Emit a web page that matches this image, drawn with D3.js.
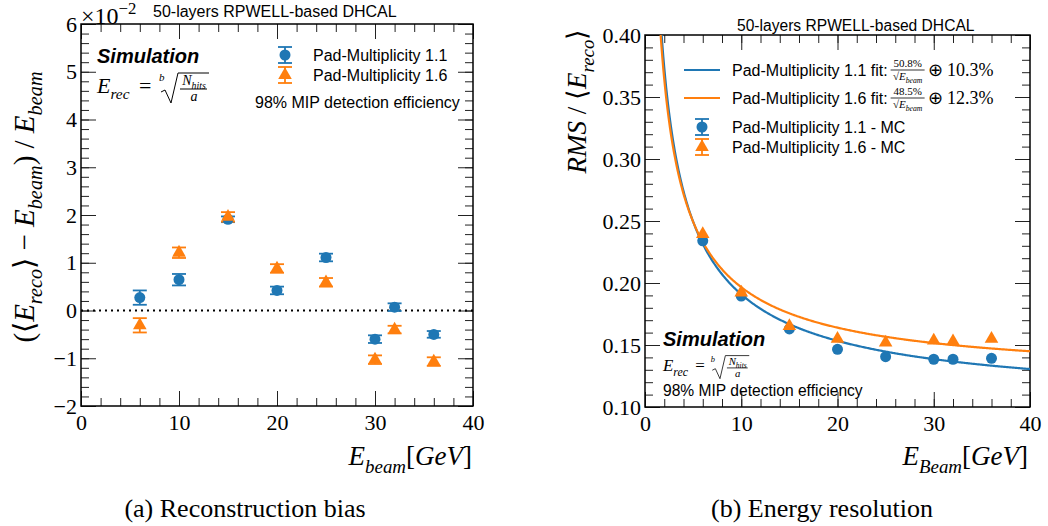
<!DOCTYPE html>
<html>
<head>
<meta charset="utf-8">
<script src="https://cdn.jsdelivr.net/npm/d3@7"></script>
<style>body{margin:0;background:#fff;}</style>
</head>
<body>
<script>
// beam energies (GeV)
const energies = [6, 10, 15, 20, 25, 30, 32, 36];

// (a) reconstruction bias, in units of 1e-2
const biasPm11 = [0.27, 0.645, 1.91, 0.42, 1.11, -0.60, 0.07, -0.50];
const biasErr11 = [0.15, 0.12, 0.06, 0.08, 0.08, 0.08, 0.08, 0.07];
const biasPm16 = [-0.31, 1.21, 1.96, 0.88, 0.59, -1.03, -0.40, -1.07];
const biasErr16 = [0.15, 0.11, 0.10, 0.09, 0.09, 0.09, 0.08, 0.09];

// (b) energy resolution
const resPm11 = [0.234, 0.1895, 0.163, 0.1465, 0.1406, 0.1385, 0.1385, 0.1393];
const resPm16 = [0.2395, 0.1922, 0.1653, 0.155, 0.152, 0.1535, 0.153, 0.155];

// fit parameters: stochastic term and constant term
const fitStoch = [0.508, 0.485];
const fitConst = [0.103, 0.123];
const fitLabels = ["Pad-Multiplicity 1.1 fit: ", "Pad-Multiplicity 1.6 fit: "];
const fitNum = ["50.8%", "48.5%"];
const fitConstTxt = ["10.3%", "12.3%"];

const xTicks = [0, 10, 20, 30, 40];
const biasTicks = [-2, -1, 0, 1, 2, 3, 4, 5, 6];
const resTicks = [0.10, 0.15, 0.20, 0.25, 0.30, 0.35, 0.40];

const serif = "'Liberation Serif', 'Times New Roman', serif";
const sans = "'Liberation Sans', Arial, sans-serif";
const blue = "#1f77b4", orange = "#ff7f0e";

const svg = d3.select("body").append("svg")
  .attr("width", 1048)
  .attr("height", 526)
  .style("background-color", "#fff");

const xL = d3.scaleLinear().domain([0, 40]).range([81, 473]);
const yL = d3.scaleLinear().domain([-2, 6]).range([406, 24]);
const xR = d3.scaleLinear().domain([0, 40]).range([645, 1030]);
const yR = d3.scaleLinear().domain([0.10, 0.40]).range([407, 35]);

function axes(x, y, yMajor, yMinor, yFmt) {
  const g = svg.append("g");
  const [x0, x1] = x.range();
  const [y0, y1] = y.range();
  const xMinor = d3.range(0, 40.01, 2);
  const clean = s => s.call(a => a.select(".domain").remove())
    .call(a => a.selectAll("line").attr("stroke", "#222"));

  g.append("g").attr("transform", `translate(0,${y0})`)
    .call(d3.axisBottom(x).tickValues(xTicks).tickSize(-15).tickPadding(8).tickFormat(d3.format("d")))
    .call(clean)
    .attr("font-family", serif).attr("font-size", 22)
    .selectAll("text").attr("fill", "#000");
  g.append("g").attr("transform", `translate(0,${y0})`)
    .call(d3.axisBottom(x).tickValues(xMinor).tickSize(-8).tickFormat("")).call(clean);
  g.append("g").attr("transform", `translate(0,${y1})`)
    .call(d3.axisTop(x).tickValues(xTicks).tickSize(-15).tickFormat("")).call(clean);
  g.append("g").attr("transform", `translate(0,${y1})`)
    .call(d3.axisTop(x).tickValues(xMinor).tickSize(-8).tickFormat("")).call(clean);

  g.append("g").attr("transform", `translate(${x0},0)`)
    .call(d3.axisLeft(y).tickValues(yMajor).tickSize(-15).tickPadding(4).tickFormat(yFmt))
    .call(clean)
    .attr("font-family", serif).attr("font-size", 22)
    .selectAll("text").attr("fill", "#000");
  g.append("g").attr("transform", `translate(${x0},0)`)
    .call(d3.axisLeft(y).tickValues(yMinor).tickSize(-8).tickFormat("")).call(clean);
  g.append("g").attr("transform", `translate(${x1},0)`)
    .call(d3.axisRight(y).tickValues(yMajor).tickSize(-15).tickFormat("")).call(clean);
  g.append("g").attr("transform", `translate(${x1},0)`)
    .call(d3.axisRight(y).tickValues(yMinor).tickSize(-8).tickFormat("")).call(clean);

  g.append("rect")
    .attr("x", x0).attr("y", y1)
    .attr("width", x1 - x0).attr("height", y0 - y1)
    .attr("fill", "none").attr("stroke", "#000").attr("stroke-width", 1.5);
}

// text with italic math parts, subscripts and superscripts
function mathText(parent, x, y, size, parts, anchor) {
  const t = parent.append("text")
    .attr("x", x).attr("y", y)
    .attr("font-family", serif)
    .attr("font-size", size)
    .attr("text-anchor", anchor || "start")
    .attr("fill", "#000");
  let shift = 0;
  parts.forEach(p => {
    const target = p.sub ? size * 0.28 : p.sup ? -size * 0.42 : 0;
    t.append("tspan")
      .attr("dy", target - shift)
      .attr("font-size", (p.sub || p.sup) ? size * 0.7 : size)
      .attr("font-style", p.it ? "italic" : "normal")
      .text(p.t);
    shift = target;
  });
  return t;
}

function errorBars(x, y, xs, ys, errs, color) {
  const g = svg.append("g").attr("stroke", color).attr("stroke-width", 1.8);
  xs.forEach((e, i) => {
    const lo = y(ys[i] - errs[i]), hi = y(ys[i] + errs[i]), cx = x(e);
    g.append("line").attr("x1", cx).attr("x2", cx).attr("y1", lo).attr("y2", hi);
    g.append("line").attr("x1", cx - 7).attr("x2", cx + 7).attr("y1", lo).attr("y2", lo);
    g.append("line").attr("x1", cx - 7).attr("x2", cx + 7).attr("y1", hi).attr("y2", hi);
  });
}

function circles(x, y, xs, ys) {
  svg.append("g").selectAll("circle").data(xs).join("circle")
    .attr("cx", d => x(d)).attr("cy", (d, i) => y(ys[i]))
    .attr("r", 5.5).attr("fill", blue);
}

function triangles(x, y, xs, ys) {
  svg.append("g").selectAll("path").data(xs).join("path")
    .attr("d", d3.symbol(d3.symbolTriangle, 80))
    .attr("transform", (d, i) => `translate(${x(d)},${y(ys[i])})`)
    .attr("fill", orange);
}

function legendMarker(cx, cy, color, tri) {
  const g = svg.append("g").attr("stroke", color).attr("stroke-width", 1.8);
  g.append("line").attr("x1", cx).attr("x2", cx).attr("y1", cy - 8).attr("y2", cy + 8);
  g.append("line").attr("x1", cx - 7).attr("x2", cx + 7).attr("y1", cy - 8).attr("y2", cy - 8);
  g.append("line").attr("x1", cx - 7).attr("x2", cx + 7).attr("y1", cy + 8).attr("y2", cy + 8);
  if (tri) {
    svg.append("path").attr("d", d3.symbol(d3.symbolTriangle, 80))
      .attr("transform", `translate(${cx},${cy})`).attr("fill", color);
  } else {
    svg.append("circle").attr("cx", cx).attr("cy", cy).attr("r", 5.5).attr("fill", color);
  }
}

function plainText(x, y, size, txt, opts) {
  opts = opts || {};
  return svg.append("text")
    .attr("x", x).attr("y", y)
    .attr("font-family", opts.family || sans)
    .attr("font-size", size)
    .attr("font-weight", opts.weight || "normal")
    .attr("font-style", opts.style || "normal")
    .attr("text-anchor", opts.anchor || "start")
    .attr("fill", "#000")
    .text(txt);
}

// E_rec = b-th root of N_hits / a
function erecFormula(x0, y0, s) {
  const g = svg.append("g").attr("transform", `translate(${x0},${y0}) scale(${s})`);
  mathText(g, 0, 0, 22, [{t: "E", it: true}, {t: "rec", it: true, sub: true}]);
  g.append("text").attr("x", 42).attr("y", 0).attr("font-family", serif)
    .attr("font-size", 22).text("=");
  g.append("text").attr("x", 62).attr("y", -12).attr("font-family", serif)
    .attr("font-style", "italic").attr("font-size", 11).text("b");
  g.append("path")
    .attr("d", "M64,-1 L68,-3 L74,10 L81,-20 L112,-20")
    .attr("fill", "none").attr("stroke", "#000").attr("stroke-width", 1);
  mathText(g, 97, -8, 14, [{t: "N", it: true}, {t: "hits", it: true, sub: true}], "middle");
  g.append("line").attr("x1", 83).attr("x2", 110).attr("y1", -4).attr("y2", -4)
    .attr("stroke", "#000").attr("stroke-width", 1);
  g.append("text").attr("x", 97).attr("y", 8).attr("font-family", serif)
    .attr("font-style", "italic").attr("font-size", 14).attr("text-anchor", "middle").text("a");
}

// ---------- (a) reconstruction bias ----------
axes(xL, yL, biasTicks, d3.range(-2, 6.01, 0.2).map(v => +v.toFixed(1)), d3.format("d"));

svg.append("line")
  .attr("x1", xL(0)).attr("x2", xL(40)).attr("y1", yL(0)).attr("y2", yL(0))
  .attr("stroke", "#000").attr("stroke-width", 2).attr("stroke-dasharray", "2,4");

errorBars(xL, yL, energies, biasPm11, biasErr11, blue);
errorBars(xL, yL, energies, biasPm16, biasErr16, orange);
circles(xL, yL, energies, biasPm11);
triangles(xL, yL, energies, biasPm16);

mathText(svg, 81, 24, 24, [{t: "×10"}, {t: "−2", sup: true}]);
plainText(153, 17, 16, "50-layers RPWELL-based DHCAL");
plainText(97, 63, 20, "Simulation", {weight: "bold", style: "italic"});
erecFormula(97, 93, 1);
legendMarker(285, 55, blue, false);
legendMarker(285, 75, orange, true);
plainText(313, 61, 16, "Pad-Multiplicity 1.1");
plainText(313, 81, 16, "Pad-Multiplicity 1.6");
plainText(255, 108, 16, "98% MIP detection efficiency");

mathText(svg, 0, 0, 29, [
  {t: "(⟨"}, {t: "E", it: true}, {t: "reco", it: true, sub: true}, {t: "⟩ − "},
  {t: "E", it: true}, {t: "beam", it: true, sub: true}, {t: ") / "},
  {t: "E", it: true}, {t: "beam", it: true, sub: true}
], "middle").attr("transform", "translate(34,207) rotate(-90)");

mathText(svg, 472, 465, 27, [
  {t: "E", it: true}, {t: "beam", it: true, sub: true}, {t: "["}, {t: "GeV", it: true}, {t: "]"}
], "end");

plainText(245, 517, 26, "(a) Reconstruction bias", {family: serif, anchor: "middle"});

// ---------- (b) energy resolution ----------
axes(xR, yR, resTicks, d3.range(0.10, 0.4001, 0.01).map(v => +v.toFixed(2)), d3.format(".2f"));

svg.append("clipPath").attr("id", "clipR").append("rect")
  .attr("x", 645).attr("y", 35).attr("width", 385).attr("height", 372);

const eGrid = d3.range(1.2, 40.001, 0.1);
[blue, orange].forEach((c, k) => {
  const line = d3.line()
    .x(e => xR(e))
    .y(e => yR(Math.sqrt(fitStoch[k] * fitStoch[k] / e + fitConst[k] * fitConst[k])));
  svg.append("path").datum(eGrid)
    .attr("d", line)
    .attr("clip-path", "url(#clipR)")
    .attr("fill", "none").attr("stroke", c).attr("stroke-width", 2.2);
});

circles(xR, yR, energies, resPm11);
triangles(xR, yR, energies, resPm16);

plainText(737, 31, 15.6, "50-layers RPWELL-based DHCAL");

// legend
[blue, orange].forEach((c, k) => {
  const ly = 70 + k * 28;
  svg.append("line").attr("x1", 684).attr("x2", 720).attr("y1", ly).attr("y2", ly)
    .attr("stroke", c).attr("stroke-width", 2.2);
  const t = plainText(732, ly + 6, 16, fitLabels[k]);
  const end = 732 + t.node().getComputedTextLength() + 2;
  const fc = end + 18;
  svg.append("text").attr("x", fc).attr("y", ly - 3).attr("font-family", serif)
    .attr("font-size", 11).attr("text-anchor", "middle").text(fitNum[k]);
  svg.append("line").attr("x1", fc - 17).attr("x2", fc + 17).attr("y1", ly).attr("y2", ly)
    .attr("stroke", "#000").attr("stroke-width", 0.8);
  mathText(svg, fc, ly + 10, 11, [{t: "√"}, {t: "E", it: true}, {t: "beam", it: true, sub: true}], "middle");
  svg.append("text").attr("x", fc + 20).attr("y", ly + 6).attr("font-family", serif)
    .attr("font-size", 18).text("⊕ " + fitConstTxt[k]);
});
legendMarker(702, 127, blue, false);
legendMarker(702, 147, orange, true);
plainText(732, 133, 16, "Pad-Multiplicity 1.1 - MC");
plainText(732, 153, 16, "Pad-Multiplicity 1.6 - MC");

plainText(663, 346, 20, "Simulation", {weight: "bold", style: "italic"});
erecFormula(663, 371, 0.77);
plainText(663, 396, 15.6, "98% MIP detection efficiency");

mathText(svg, 0, 0, 27, [
  {t: "RMS", it: true}, {t: " / ⟨"}, {t: "E", it: true}, {t: "reco", it: true, sub: true}, {t: "⟩"}
], "middle").attr("transform", "translate(586,101) rotate(-90)");

mathText(svg, 1028, 465, 27, [
  {t: "E", it: true}, {t: "Beam", it: true, sub: true}, {t: "["}, {t: "GeV", it: true}, {t: "]"}
], "end");

plainText(822, 517, 26, "(b) Energy resolution", {family: serif, anchor: "middle"});
</script>
</body>
</html>
